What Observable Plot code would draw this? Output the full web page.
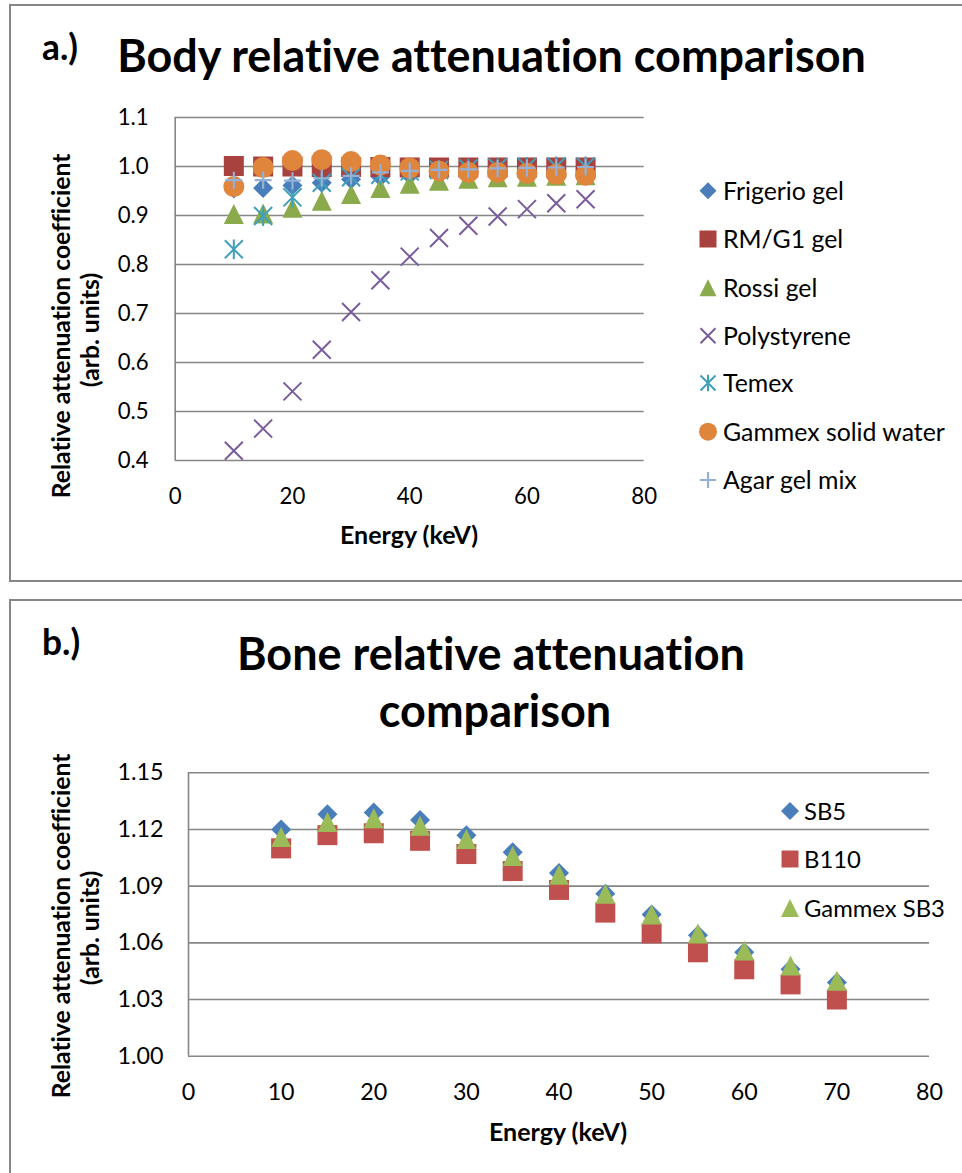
<!DOCTYPE html>
<html>
<head>
<meta charset="utf-8">
<title>Relative attenuation comparison</title>
<script src="https://cdn.jsdelivr.net/npm/d3@7"></script>
<script src="https://cdn.jsdelivr.net/npm/@observablehq/plot@0.6"></script>
<style>
  html, body { margin:0; padding:0; background:#fff; }
  #page { position:relative; width:962px; height:1173px; overflow:hidden; background:#fff; font-variant-ligatures:none; }
  #page svg text { font-variant-ligatures:none; }
  .box { position:absolute; left:9px; width:990px; border:2px solid #878787; box-sizing:border-box; }
</style>
</head>
<body>
<div id="page"></div>
<script>
// ---------------- Data ----------------
// Panel a: body-equivalent materials
const energyA = [10, 15, 20, 25, 30, 35, 40, 45, 50, 55, 60, 65, 70];
const frigerioGel = [0.955, 0.956, 0.961, 0.967, 0.974, 0.979, 0.983, 0.986, 0.989, 0.991, 0.993, 0.994, 0.995];
const rmg1Gel     = [1.001, 1.000, 1.000, 0.999, 0.999, 0.999, 0.998, 0.998, 0.998, 0.998, 0.998, 0.998, 0.998];
const rossiGel    = [0.903, 0.904, 0.916, 0.930, 0.944, 0.956, 0.965, 0.971, 0.975, 0.978, 0.979, 0.981, 0.982];
const polystyrene = [0.420, 0.465, 0.541, 0.626, 0.703, 0.768, 0.816, 0.854, 0.879, 0.898, 0.913, 0.925, 0.933];
const temex       = [0.831, 0.899, 0.937, 0.967, 0.978, 0.983, 0.990, 0.993, 0.996, 0.998, 0.999, 1.000, 1.000];
const gammexSolidWater = [0.959, 0.998, 1.012, 1.014, 1.010, 1.003, 0.997, 0.991, 0.988, 0.988, 0.986, 0.984, 0.982];
const agarGelMix  = [0.972, 0.972, 0.971, 0.976, 0.981, 0.988, 0.991, 0.993, 0.994, 0.996, 0.997, 0.998, 0.999];
const seriesNamesA = ["Frigerio gel", "RM/G1 gel", "Rossi gel", "Polystyrene", "Temex", "Gammex solid water", "Agar gel mix"];
const xTicksA = [0, 20, 40, 60, 80];
const yTicksA = [0.4, 0.5, 0.6, 0.7, 0.8, 0.9, 1.0, 1.1];

// Panel b: bone-equivalent materials
const energyB = [10, 15, 20, 25, 30, 35, 40, 45, 50, 55, 60, 65, 70];
const sb5       = [1.120, 1.128, 1.129, 1.125, 1.117, 1.108, 1.097, 1.086, 1.075, 1.064, 1.055, 1.046, 1.039];
const b110      = [1.110, 1.117, 1.118, 1.114, 1.107, 1.098, 1.088, 1.076, 1.065, 1.055, 1.046, 1.038, 1.030];
const gammexSB3 = [1.116, 1.124, 1.126, 1.122, 1.115, 1.106, 1.096, 1.086, 1.075, 1.065, 1.056, 1.048, 1.040];
const seriesNamesB = ["SB5", "B110", "Gammex SB3"];
const xTicksB = [0, 10, 20, 30, 40, 50, 60, 70, 80];
const yTicksB = [1.00, 1.03, 1.06, 1.09, 1.12, 1.15];

// ---------------- Styling ----------------
const FONT = 'Lato, "Open Sans", sans-serif';
const GRID = "#868686";

// Excel-like marker shapes (custom symbols; r = sqrt(size/PI))
const sym = fn => ({ draw(ctx, size) { fn(ctx, Math.sqrt(size / Math.PI)); } });
const xlDiamond  = sym((c, r) => { c.moveTo(0, -r); c.lineTo(r, 0); c.lineTo(0, r); c.lineTo(-r, 0); c.closePath(); });
const xlSquare   = sym((c, r) => { c.moveTo(-r, -r); c.lineTo(r, -r); c.lineTo(r, r); c.lineTo(-r, r); c.closePath(); });
const xlTriangle = sym((c, r) => { c.moveTo(0, -r); c.lineTo(r, r); c.lineTo(-r, r); c.closePath(); });
const xlTimes    = sym((c, r) => { c.moveTo(-r, -r); c.lineTo(r, r); c.moveTo(r, -r); c.lineTo(-r, r); });
const xlStar     = sym((c, r) => { c.moveTo(-r, -r); c.lineTo(r, r); c.moveTo(r, -r); c.lineTo(-r, r); c.moveTo(0, -r * 1.1); c.lineTo(0, r * 1.1); });
const xlCircle   = sym((c, r) => { c.moveTo(r, 0); c.arc(0, 0, r, 0, 2 * Math.PI); c.closePath(); });
const xlPlus     = sym((c, r) => { c.moveTo(-r, 0); c.lineTo(r, 0); c.moveTo(0, -r); c.lineTo(0, r); });

const styleA = [
  { symbol: xlDiamond,  color: "#4A7EBB", filled: true,  r: 10,  lr: 8.5 },
  { symbol: xlSquare,   color: "#A8423F", filled: true,  r: 10,  lr: 8.5 },
  { symbol: xlTriangle, color: "#8BAA4B", filled: true,  r: 10,  lr: 8.5 },
  { symbol: xlTimes,    color: "#7A5C9D", filled: false, r: 9,   lr: 7.5, sw: 2 },
  { symbol: xlStar,     color: "#3FA0BA", filled: false, r: 9,   lr: 7.5, sw: 2 },
  { symbol: xlCircle,   color: "#E0853C", filled: true,  r: 10.5, lr: 9 },
  { symbol: xlPlus,     color: "#94B0D6", filled: false, r: 8.5, lr: 8, sw: 2.2 }
];
const styleB = [
  { symbol: xlDiamond,  color: "#4A7EBB", filled: true, r: 10, lr: 9 },
  { symbol: xlSquare,   color: "#C0504D", filled: true, r: 10, lr: 8.5 },
  { symbol: xlTriangle, color: "#9BBB59", filled: true, r: 10, lr: 9 }
];

const valuesA = [frigerioGel, rmg1Gel, rossiGel, polystyrene, temex, gammexSolidWater, agarGelMix];
const valuesB = [sb5, b110, gammexSB3];
const rowsA = seriesNamesA.flatMap((name, s) => energyA.map((e, i) => ({ series: name, energy: e, value: valuesA[s][i] })));
const rowsB = seriesNamesB.flatMap((name, s) => energyB.map((e, i) => ({ series: name, energy: e, value: valuesB[s][i] })));

const page = d3.select("#page");
page.append("div").attr("class", "box").style("top", "4px").style("height", "578px");
page.append("div").attr("class", "box").style("top", "599px").style("height", "600px");

// annotation layer (for text measurement + titles/legends)
const ann = page.append("svg")
  .attr("width", 962).attr("height", 1173)
  .style("position", "absolute").style("left", "0px").style("top", "0px")
  .style("font-family", FONT).style("pointer-events", "none");

function measure(txt, weight, size) {
  const t = ann.append("text").attr("font-weight", weight).attr("font-size", size).text(txt);
  const w = t.node().getComputedTextLength();
  t.remove();
  return w;
}
const fit = (txt, weight, width) => 100 * width / measure(txt, weight, 100);

const tickFsA = fit("1.0", 400, 31);
const tickFsB = fit("1.15", 400, 46);

function dotMarks(rows, names, styles) {
  return names.map((name, s) => {
    const st = styles[s];
    const paint = st.filled ? { fill: st.color, stroke: "none" } : { fill: "none", stroke: st.color, strokeWidth: st.sw };
    return Plot.dot(rows.filter(d => d.series === name), { x: "energy", y: "value", symbol: st.symbol, r: st.r, ...paint });
  });
}

function makePlot(o) {
  const svg = Plot.plot({
    width: 962, height: o.height,
    marginTop: o.mt, marginBottom: o.mb, marginLeft: o.ml, marginRight: o.mr,
    style: { background: "transparent", color: "#000", fontFamily: FONT, overflow: "visible" },
    x: { domain: [0, 80] },
    y: { domain: o.yDomain },
    marks: [
      Plot.gridY(o.yTicks, { stroke: GRID, strokeOpacity: 1, strokeWidth: 1.6 }),
      Plot.ruleX([0], { stroke: GRID, strokeWidth: 1.6 }),
      Plot.axisX({ ticks: o.xTicks, tickSize: 0, tickPadding: 36 - 0.36 * o.fs, fontSize: o.fs, label: null, tickFormat: d => String(d) }),
      Plot.axisY({ ticks: o.yTicks, tickSize: 0, tickPadding: o.yPad, fontSize: o.fs, label: null, tickFormat: d3.format(o.yFmt) }),
      ...o.dots
    ]
  });
  svg.style.position = "absolute";
  svg.style.left = "0px";
  svg.style.top = o.top + "px";
  page.node().insertBefore(svg, ann.node());
  return svg;
}

makePlot({
  top: 0, height: 580, mt: 117, mb: 120, ml: 174.7, mr: 318.3,
  yDomain: [0.4, 1.1], xTicks: xTicksA, yTicks: yTicksA, yFmt: ".1f", yPad: 26.5, fs: tickFsA,
  dots: dotMarks(rowsA, seriesNamesA, styleA)
});
makePlot({
  top: 600, height: 573, mt: 172.3, mb: 117.3, ml: 188, mr: 33,
  yDomain: [1.0, 1.15], xTicks: xTicksB, yTicks: yTicksB, yFmt: ".2f", yPad: 25, fs: tickFsB,
  dots: dotMarks(rowsB, seriesNamesB, styleB)
});

// ---------------- Titles, axis titles, legends ----------------
function text(txt, x, y, fs, weight, anchor) {
  return ann.append("text").attr("x", x).attr("y", y).attr("font-size", fs)
    .attr("font-weight", weight).attr("text-anchor", anchor || "start").attr("fill", "#000").text(txt);
}
function rotText(txt, x, y, fs) {
  return ann.append("text").attr("transform", `translate(${x},${y}) rotate(-90)`)
    .attr("font-size", fs).attr("font-weight", 700).attr("text-anchor", "middle").attr("fill", "#000").text(txt);
}
function symPath(symbol, r) { const p = d3.path(); symbol.draw(p, r * r * Math.PI); return p.toString(); }
function legend(names, styles, mx, tx, ys, fs) {
  names.forEach((name, i) => {
    const st = styles[i];
    const p = ann.append("path").attr("d", symPath(st.symbol, st.lr)).attr("transform", `translate(${mx},${ys[i]})`);
    if (st.filled) p.attr("fill", st.color).attr("stroke", "none");
    else p.attr("fill", "none").attr("stroke", st.color).attr("stroke-width", st.sw);
    text(name, tx, ys[i] + 0.36 * fs, fs, 400);
  });
}

const labelFs = fit("a.)", 700, 36);
const titleFsA = fit("Body relative attenuation comparison", 700, 749);
const titleFsB = fit("Bone relative attenuation", 700, 508);
const axisTitleFs = fit("Energy (keV)", 700, 138);
const yTitleFs = fit("Relative attenuation coefficient", 700, 345);

// panel a
text("a.)", 42, 60, labelFs, 700);
text("Body relative attenuation comparison", 491.5, 72, titleFsA, 700, "middle");
text("Energy (keV)", 409, 544, axisTitleFs, 700, "middle");
rotText("Relative attenuation coefficient", 70, 326, yTitleFs);
rotText("(arb. units)", 99, 330, yTitleFs);
legend(seriesNamesA, styleA, 708, 723, [190.7, 239, 287.7, 335.7, 383, 431.7, 480], fit("Gammex solid water", 400, 222));

// panel b
text("b.)", 42, 655, labelFs, 700);
text("Bone relative attenuation", 491, 670, titleFsB, 700, "middle");
text("comparison", 495, 727, titleFsB, 700, "middle");
text("Energy (keV)", 558, 1141, axisTitleFs, 700, "middle");
rotText("Relative attenuation coefficient", 70, 926, yTitleFs);
rotText("(arb. units)", 99, 928, yTitleFs);
legend(seriesNamesB, styleB, 790, 804, [811, 859, 908], fit("Gammex SB3", 400, 141));
</script>
</body>
</html>
